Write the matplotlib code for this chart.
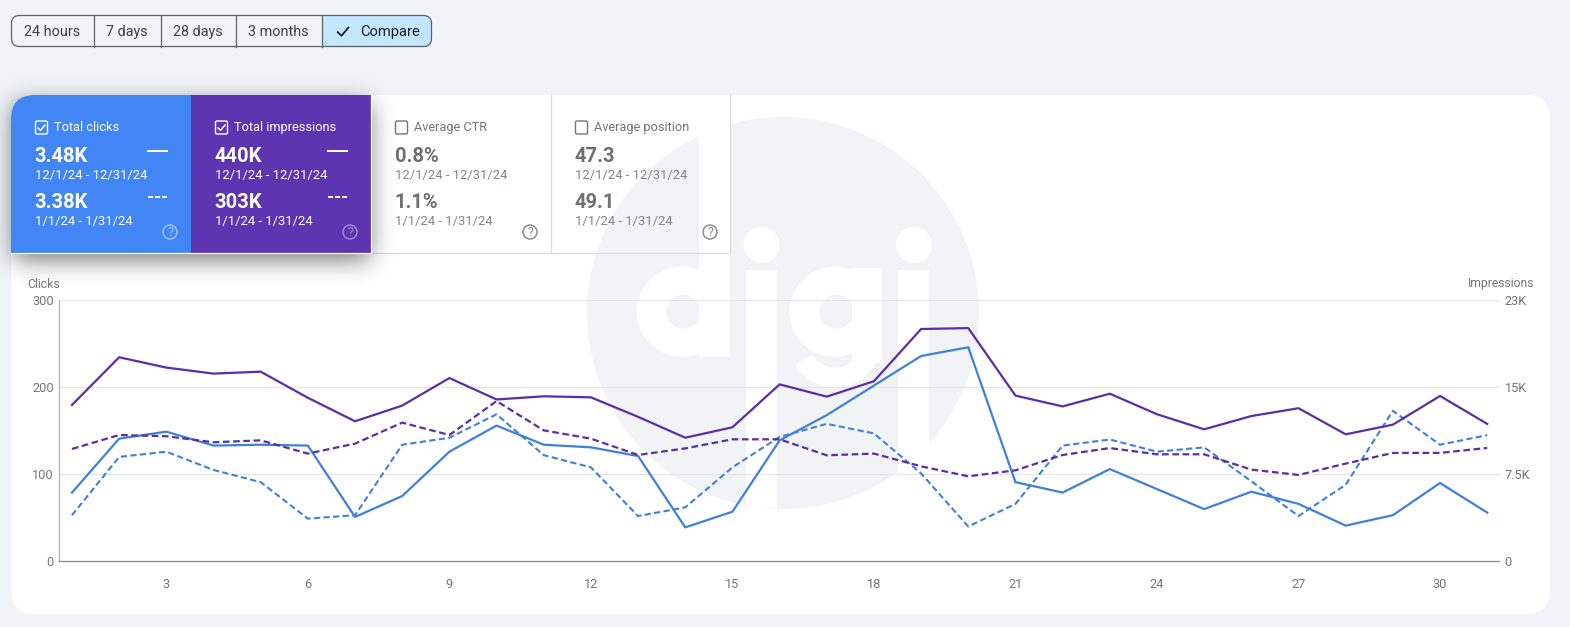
import math
import numpy as np
import matplotlib
matplotlib.use('Agg')
import matplotlib.pyplot as plt
from matplotlib.patches import Rectangle, FancyBboxPatch, Circle, Wedge

plt.rcParams['font.family'] = ['Roboto', 'DejaVu Sans']

days = list(range(1, 32))
clicks_now = [79, 141, 149, 133, 134, 133, 51, 75, 126, 156, 134, 131, 121, 39, 57, 139, 168, 202, 236, 246,
              91, 79, 106, 83, 60, 80, 66, 41, 53, 90, 56]
clicks_prev = [53, 120, 126, 105, 91, 49, 53, 134, 142, 169, 122, 108, 52, 62, 108, 143, 158, 147, 101, 40,
               66, 133, 140, 126, 131, 92, 52, 88, 173, 134, 145]
impr_now = [13780, 17980, 17070, 16540, 16710, 14410, 12340, 13720, 16150, 14260, 14540, 14450, 12730, 10890,
            11810, 15590, 14510, 15870, 20470, 20550, 14600, 13650, 14770, 12960, 11630, 12800, 13490, 11190,
            12040, 14570, 12110]
impr_prev = [9900, 11130, 11020, 10490, 10660, 9490, 10370, 12220, 11130, 14120, 11540, 10810, 9370, 9950,
             10750, 10750, 9340, 9490, 8370, 7490, 8020, 9370, 9980, 9430, 9430, 8080, 7610, 8610, 9550, 9550,
             9990]

x_ticks = [3, 6, 9, 12, 15, 18, 21, 24, 27, 30]
clicks_ticks = [0, 100, 200, 300]
impr_ticks = [0, 7667, 15333, 23000]
impr_labels = ['0', '7.5K', '15K', '23K']

range_buttons = ['24 hours', '7 days', '28 days', '3 months']
date_now = '12/1/24 - 12/31/24'
date_prev = '1/1/24 - 1/31/24'
metric_names = ['Total clicks', 'Total impressions', 'Average CTR', 'Average position']
metric_now = ['3.48K', '440K', '0.8%', '47.3']
metric_prev = ['3.38K', '303K', '1.1%', '49.1']

BG = '#f0f4f9'
BLUE = '#4285f4'
PURPLE = '#5e35b1'
LINE_BLUE = '#4080dc'
LINE_PURPLE = '#5a2ea6'
WM = '#f1f3f4'
DASH = (0, (3.0, 1.6))

fig = plt.figure(figsize=(15.7, 6.27), dpi=100, facecolor=BG)

# page layer, in pixels
page = fig.add_axes([0, 0, 1, 1])
page.set_xlim(0, 1570)
page.set_ylim(627, 0)
page.axis('off')

card = FancyBboxPatch((11, 95), 1539, 519, boxstyle='round,pad=0,rounding_size=24', fc='white', ec='none')
page.add_patch(card)

# watermark
page.add_patch(Circle((783, 313), 196, fc=WM, ec='none'))
zx = lambda v: 570 + v / 3
zy = lambda v: 100 + v / 3
page.add_patch(Circle((zx(335), zy(635)), 45, fc='white', ec='none'))
page.add_patch(Rectangle((zx(388), 100), 31, zy(765) - 100, fc='white', ec='none'))
page.add_patch(Circle((zx(340), zy(635)), 17, fc=WM, ec='none'))
page.add_patch(Rectangle((zx(388), zy(500)), 31, 90, fc='white', ec='none'))
page.add_patch(Circle((zx(575), zy(435)), 18, fc='white', ec='none'))
page.add_patch(Rectangle((zx(528), zy(510)), 31, zy(1225) - zy(510), fc='white', ec='none'))
page.add_patch(Circle((zx(793), zy(635)), 45, fc='white', ec='none'))
page.add_patch(Wedge((zx(795), zy(725)), 46, 0, 150, width=20, fc='white', ec='none'))
page.add_patch(Rectangle((zx(845), zy(505)), 30, 95, fc='white', ec='none'))
page.add_patch(Circle((zx(800), zy(635)), 17, fc=WM, ec='none'))
page.add_patch(Rectangle((zx(845), zy(505)), 30, 60, fc='white', ec='none'))
page.add_patch(Circle((zx(1032), zy(435)), 18, fc='white', ec='none'))
page.add_patch(Rectangle((zx(985), zy(510)), 31, zy(1135) - zy(510), fc='white', ec='none'))

# card separators
for sx in [550.5, 730]:
    page.plot([sx, sx], [95, 252], color='#dadce0', lw=0.9)
page.plot([371, 730], [252.5, 252.5], color='#dadce0', lw=0.9)


# soft shadow behind the two active cards
def edge(v, a, b, s):
    erf = np.vectorize(math.erf)
    return 0.5 * (erf((v - a) / s) - erf((v - b) / s))


sx_grid = np.arange(-30, 430)
sy_grid = np.arange(50, 320)
shade = np.outer(edge(sy_grid, 103, 259, 17), edge(sx_grid, 13, 369, 17)) * 0.55
rgba = np.zeros(shade.shape + (4,))
rgba[..., 3] = shade
page.imshow(rgba, extent=(-30, 430, 320, 50), aspect='auto', interpolation='bilinear', zorder=2.2)
page.set_xlim(0, 1570)
page.set_ylim(627, 0)

blue = Rectangle((11, 95), 180, 158, fc=BLUE, ec='none', zorder=2.4)
page.add_patch(blue)
blue.set_clip_path(card)
page.add_patch(Rectangle((191, 95), 180, 158, fc=PURPLE, ec='none', zorder=2.4))
page.plot([11, 371, 371], [253, 253, 95], color='white', lw=0.9, zorder=2.5)


def check(px, py, size, color, lw):
    page.plot([px - size, px - size * 0.25, px + size], [py, py + size * 0.7, py - size * 0.75],
              color=color, lw=lw, solid_capstyle='butt', zorder=3)


for i, name in enumerate(metric_names):
    left = 35 + i * 180
    active = i < 2
    head = 'white' if active else '#757575'
    big = 'white' if active else '#6f6f6f'
    sub = 'white' if active else '#80868b'
    page.add_patch(FancyBboxPatch((left + 0.5, 121), 12, 13, boxstyle='round,pad=0,rounding_size=1.5',
                                  fc='none', ec=head, lw=1, zorder=3))
    if active:
        check(left + 6.5, 127.5, 4, 'white', 1.1)
    page.text(left + 19, 131.3, name, color=head, fontsize=9.2, va='baseline', ha='left')
    page.text(left - 0.5, 162, metric_now[i], color=big, fontsize=14.5, fontweight='bold', va='baseline')
    page.text(left, 179, date_now, color=sub, fontsize=9.4, va='baseline')
    page.text(left - 0.5, 208, metric_prev[i], color=big, fontsize=14.5, fontweight='bold', va='baseline')
    page.text(left, 225.3, date_prev, color=sub, fontsize=9.4, va='baseline')
    if active:
        page.plot([left + 113, left + 132], [151, 151], color='white', lw=1.4, zorder=3)
        page.plot([left + 113, left + 132], [197, 197], color='white', lw=1.4, linestyle=(0, (2.6, 1.03)), zorder=3)
    help_col = '#a9c6fa' if i == 0 else ('#a58fdc' if i == 1 else '#80868b')
    page.add_patch(Circle((left + 135, 232), 7, fc='none', ec=help_col, lw=1, zorder=3))
    page.text(left + 135, 232, '?', color=help_col, fontsize=9, ha='center', va='center')

# date range buttons
compare = FancyBboxPatch((11.5, 15.5), 420, 31, boxstyle='round,pad=0,rounding_size=8', fc=BG, ec='none')
page.add_patch(compare)
hl = Rectangle((321.5, 15.5), 110, 31, fc='#c2e7ff', ec='none')
page.add_patch(hl)
hl.set_clip_path(compare)
page.add_patch(FancyBboxPatch((11.5, 15.5), 420, 31, boxstyle='round,pad=0,rounding_size=8', fc='none',
                              ec='#5f6368', lw=0.9))
for sx in [93.5, 160.5, 235.5, 321.5]:
    page.plot([sx, sx], [15.5, 46.5], color='#5f6368', lw=0.9)
for cx, label in zip([52, 127, 198, 278.5], range_buttons):
    page.text(cx, 36, label, color='#3c4043', fontsize=10.4, ha='center', va='baseline')
check(343, 31.5, 6, '#1f1f1f', 1.3)
page.text(390, 36, 'Compare', color='#1f1f1f', fontsize=10.6, ha='center', va='baseline')

page.text(27, 287.5, 'Clicks', color='#757575', fontsize=8.8, va='baseline')
page.text(1534.5, 287.5, 'Impressions', color='#757575', fontsize=8.7, va='baseline', ha='right')

# chart
ax = fig.add_axes([59.3 / 1570, 1 - 561.3 / 627, (1499 - 59.3) / 1570, 261 / 627])
ax.patch.set_alpha(0)
ax.set_xlim(0.731, 31.25)
ax.set_ylim(0, 300)
ax.set_xticks(x_ticks)
ax.set_yticks(clicks_ticks)
ax.grid(axis='y', color='#e4e6e9', lw=0.9)
ax.set_axisbelow(True)
ax.tick_params(length=0, labelcolor='#757575', labelsize=9.2)
ax.tick_params(axis='x', pad=12)
ax.tick_params(axis='y', pad=4)
for s in ['top', 'right']:
    ax.spines[s].set_visible(False)
ax.spines['left'].set_color('#b0b3b8')
ax.spines['bottom'].set_color('#8a8d91')
ax.spines['left'].set_linewidth(0.9)
ax.spines['bottom'].set_linewidth(0.9)

ax.plot(days, clicks_prev, color=LINE_BLUE, lw=1.5, linestyle=DASH)
ax.plot(days, clicks_now, color=LINE_BLUE, lw=1.6)

ax2 = ax.twinx()
ax2.patch.set_alpha(0)
ax2.set_ylim(0, 23000)
ax2.set_yticks(impr_ticks)
ax2.set_yticklabels(impr_labels)
ax2.tick_params(length=0, labelcolor='#757575', labelsize=9.2, pad=4)
for s in ax2.spines.values():
    s.set_visible(False)
ax2.plot(days, impr_prev, color=LINE_PURPLE, lw=1.6, linestyle=DASH)
ax2.plot(days, impr_now, color=LINE_PURPLE, lw=1.6)

fig.savefig('out.png', dpi=100, facecolor=BG)
